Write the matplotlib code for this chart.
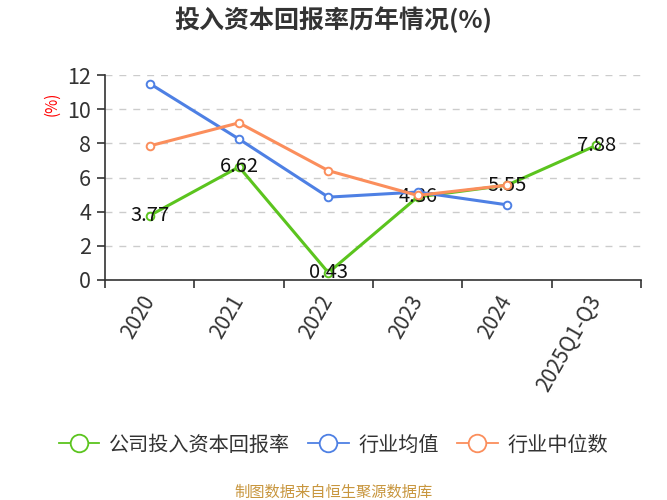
import matplotlib
matplotlib.use('Agg')
import matplotlib.pyplot as plt
import numpy as np

plt.rcParams['font.family'] = ['Noto Sans CJK SC', 'DejaVu Sans']

# 数据
categories = ['2020', '2021', '2022', '2023', '2024', '2025Q1-Q3']
company = [3.77, 6.62, 0.43, 4.86, 5.55, 7.88]
industry_avg = [11.5, 8.25, 4.85, 5.15, 4.4]
industry_median = [7.85, 9.2, 6.4, 4.95, 5.55]

green = '#5BC41E'
blue = '#4E80E4'
orange = '#FB8E5C'

fig = plt.figure(figsize=(6.67, 5), dpi=100)
ax = fig.add_axes([105 / 667, 220 / 500, 536 / 667, 205 / 500])

x = np.arange(len(categories))
style = dict(lw=2.2, marker='o', ms=5.5, mfc='white', mew=1.4)
ax.plot(x, company, color=green, label='公司投入资本回报率', zorder=3, **style)
ax.plot(x[:len(industry_avg)], industry_avg, color=blue, label='行业均值', zorder=5, **style)
ax.plot(x[:len(industry_median)], industry_median, color=orange, label='行业中位数', zorder=5, **style)

for xi, v in zip(x, company):
    ax.text(xi, v, f'{v:.2f}', ha='center', va='center', fontsize=14.5, color='#111111', zorder=4)

ax.set_xlim(-0.5, len(categories) - 0.5)
ax.set_ylim(0, 12)
ax.set_yticks(range(0, 13, 2))
ax.set_xticks(x)
ax.set_xticklabels(categories, rotation=60, ha='right', va='center', rotation_mode='anchor')
ax.set_xticks(np.arange(-0.5, len(categories)), minor=True)
ax.tick_params(axis='x', which='major', length=0, labelsize=15, labelcolor='#333333', pad=12)
ax.tick_params(axis='x', which='minor', length=6, color='#333333', width=1.2)
ax.tick_params(axis='y', length=6, color='#333333', width=1.2, labelsize=15.5,
               labelcolor='#333333', pad=4)

ax.grid(axis='y', color='#CCCCCC', ls=(0, (5, 5)), lw=1)
for s in ['top', 'right']:
    ax.spines[s].set_visible(False)
for s in ['left', 'bottom']:
    ax.spines[s].set_color('#333333')
    ax.spines[s].set_linewidth(1.2)

fig.text(52 / 667, 1 - 104 / 500, '(%)', color='red', fontsize=11, rotation=90, ha='center', va='center')
fig.text(0.5, 1 - 20 / 500, '投入资本回报率历年情况(%)', fontsize=18, fontweight='bold',
         ha='center', va='center', color='#333333')

leg = fig.legend(loc='center', bbox_to_anchor=(0.5, 1 - 445 / 500), ncol=3, frameon=False,
                 fontsize=14.5, handlelength=2.0, columnspacing=0.9, handletextpad=0.5,
                 markerscale=2.3)
for t in leg.get_texts():
    t.set_color('#333333')
for h in leg.legend_handles:
    h.set_linewidth(1.3)
    h.set_markeredgewidth(1.3)

fig.text(0.5, 1 - 492 / 500, '制图数据来自恒生聚源数据库', fontsize=11, color='#C8963E',
         ha='center', va='center')

fig.savefig('out.png', dpi=100)
